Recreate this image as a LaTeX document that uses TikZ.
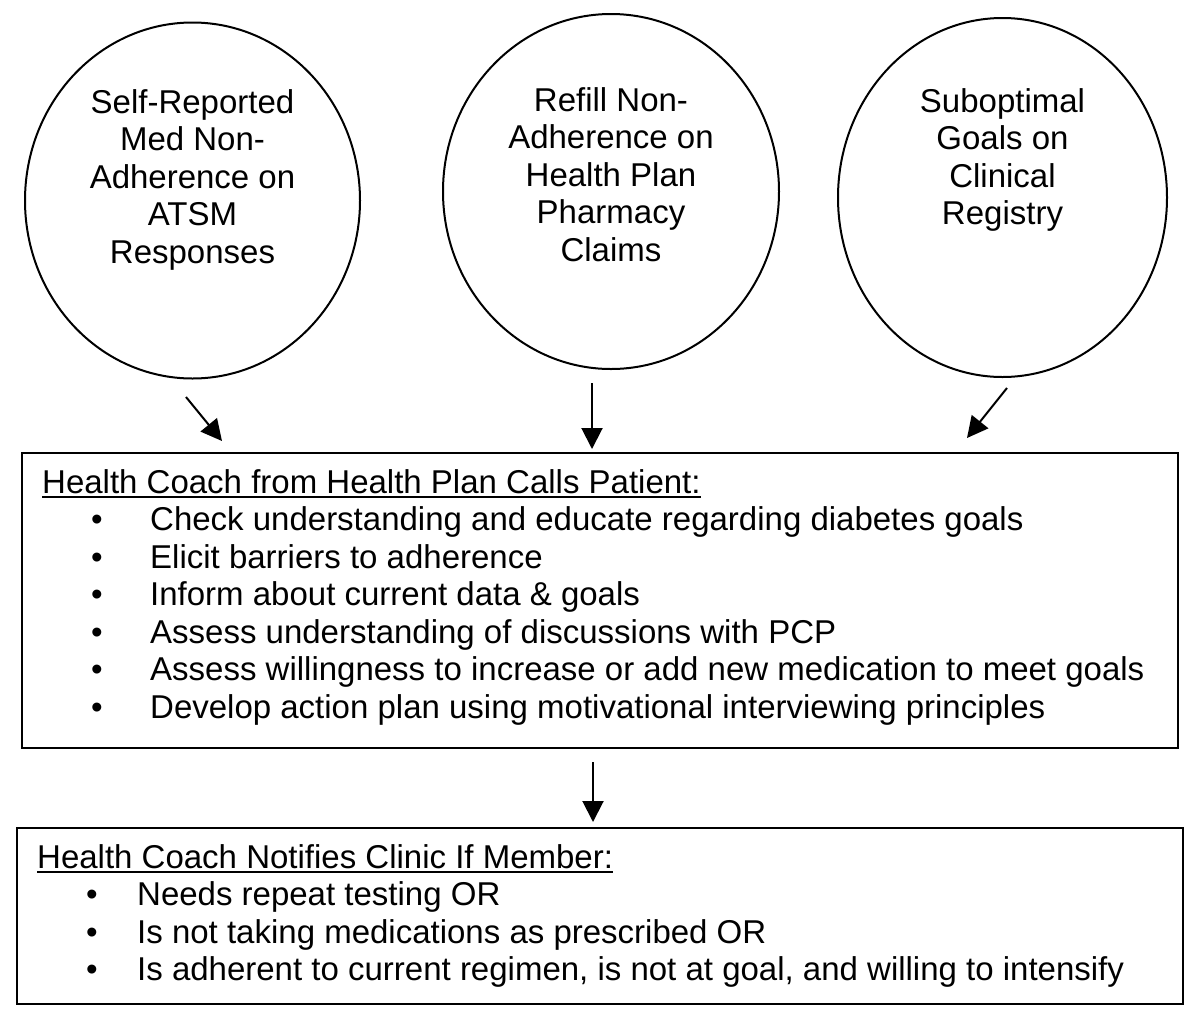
\documentclass[tikz,border=0pt]{standalone}
\usepackage{fontspec}
\setmainfont{Liberation Sans}
\usetikzlibrary{shapes.geometric,arrows.meta}
\tikzset{
  src/.style={draw, line width=2pt, ellipse, inner sep=0pt},
  ctext/.style={align=center, anchor=north, inner sep=0pt, font=\fontsize{33}{37.5}\selectfont},
  panel/.style={draw, line width=2.2pt, rectangle, inner sep=0pt, anchor=north west},
  txt/.style={inner sep=0pt, anchor=base west, font=\fontsize{33}{37.5}\selectfont},
  bul/.style={inner sep=0pt, anchor=base, font=\fontsize{33}{37.5}\selectfont},
  arr/.style={line width=2pt, -{Triangle[length=21pt,width=21pt]}},
  uline/.style={line width=1.2pt}
}
\begin{document}
\begin{tikzpicture}[x=1pt,y=-1pt]
\useasboundingbox (0,0) rectangle (1200,1013);

% source circles
\node[src, minimum width=335pt, minimum height=356pt] (c1) at (192.5,200.5) {};
\node[src, minimum width=336pt, minimum height=355pt] (c2) at (611,191.5) {};
\node[src, minimum width=329pt, minimum height=359pt] (c3) at (1002.5,197.5) {};

\node[ctext] (t1) at (192.5,89) {Self-Reported\\Med Non-\\Adherence on\\ATSM\\Responses};
\node[ctext] (t2) at (611,87) {Refill Non-\\Adherence on\\Health Plan\\Pharmacy\\Claims};
\node[ctext] (t3) at (1002.5,88) {Suboptimal\\Goals on\\Clinical\\Registry};

% panels
\node[panel, minimum width=1156pt, minimum height=295pt] (box1) at (21,452) {};
\node[panel, minimum width=1166pt, minimum height=176pt] (box2) at (16,827) {};

% arrows
\coordinate (a1s) at (186,397);  \coordinate (a1e) at (222,441);
\coordinate (a2s) at (592,383);  \coordinate (a2e) at (592,449);
\coordinate (a3s) at (1007,388); \coordinate (a3e) at (967,438);
\coordinate (a4s) at (593,762);  \coordinate (a4e) at (593,822);
\draw[arr] (a1s) -- (a1e);
\draw[arr] (a2s) -- (a2e);
\draw[arr] (a3s) -- (a3e);
\draw[arr] (a4s) -- (a4e);

% box 1 text
\node[txt] (h1) at (42,493) {Health Coach from Health Plan Calls Patient:};
\draw[uline] ([yshift=-4pt]h1.base west) -- ([yshift=-4pt]h1.base east);
\foreach \t [count=\i] in {
  Check understanding and educate regarding diabetes goals,
  Elicit barriers to adherence,
  Inform about current data \& goals,
  Assess understanding of discussions with PCP,
  Assess willingness to increase or add new medication to meet goals,
  Develop action plan using motivational interviewing principles}{
  \node[bul] (p1b\i) at (97,{493+37.5*\i}) {\textbullet};
  \node[txt] (p1t\i) at (150,{493+37.5*\i}) {\t};
}

% box 2 text
\node[txt] (h2) at (37,868) {Health Coach Notifies Clinic If Member:};
\draw[uline] ([yshift=-4pt]h2.base west) -- ([yshift=-4pt]h2.base east);
\foreach \t [count=\i] in {
  Needs repeat testing OR,
  Is not taking medications as prescribed OR,
  {Is adherent to current regimen, is not at goal, and willing to intensify}}{
  \node[bul] (p2b\i) at (92,{868+37.5*\i}) {\textbullet};
  \node[txt] (p2t\i) at (137,{868+37.5*\i}) {\t};
}
\end{tikzpicture}
\end{document}
